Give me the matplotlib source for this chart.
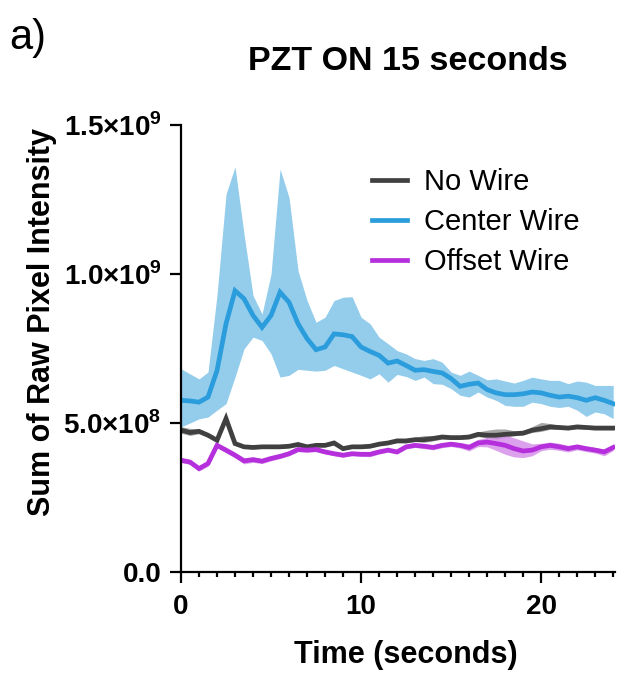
import numpy as np
import matplotlib
matplotlib.use("Agg")
import matplotlib.pyplot as plt
from matplotlib.ticker import MultipleLocator

plt.rcParams['font.family'] = ['Liberation Sans', 'DejaVu Sans']
plt.rcParams['mathtext.fontset'] = 'custom'
plt.rcParams['mathtext.rm'] = 'Liberation Sans'
plt.rcParams['mathtext.bf'] = 'Liberation Sans:bold'

# Data (values in units of 1e8), sampled every 0.5 s
time_s = [0.0, 0.5, 1.0, 1.5, 2.0, 2.5, 3.0, 3.5, 4.0, 4.5, 5.0, 5.5, 6.0, 6.5,
          7.0, 7.5, 8.0, 8.5, 9.0, 9.5, 10.0, 10.5, 11.0, 11.5, 12.0, 12.5,
          13.0, 13.5, 14.0, 14.5, 15.0, 15.5, 16.0, 16.5, 17.0, 17.5, 18.0,
          18.5, 19.0, 19.5, 20.0, 20.5, 21.0, 21.5, 22.0, 22.5, 23.0, 23.5, 24.0]

no_wire = [4.76, 4.68, 4.72, 4.59, 4.42, 5.15, 4.31, 4.20, 4.18, 4.20, 4.20,
           4.20, 4.22, 4.28, 4.20, 4.25, 4.25, 4.33, 4.14, 4.20, 4.20,
           4.22, 4.29, 4.33, 4.40, 4.40, 4.44, 4.44, 4.48, 4.53, 4.51,
           4.51, 4.53, 4.62, 4.59, 4.59, 4.62, 4.64, 4.66, 4.76, 4.81,
           4.87, 4.85, 4.83, 4.87, 4.85, 4.83, 4.83, 4.83]
no_wire_hi = [4.88, 4.82, 4.80, 4.66, 4.50, 5.22, 4.38, 4.26, 4.24, 4.26, 4.27,
              4.28, 4.29, 4.36, 4.27, 4.32, 4.32, 4.42, 4.20, 4.27, 4.26,
              4.28, 4.35, 4.40, 4.47, 4.48, 4.52, 4.58, 4.58, 4.60, 4.58,
              4.57, 4.60, 4.70, 4.76, 4.80, 4.80, 4.74, 4.73, 4.88, 5.02,
              4.98, 4.92, 4.90, 4.94, 4.91, 4.89, 4.89, 4.90]
no_wire_lo = [4.66, 4.58, 4.64, 4.52, 4.36, 5.08, 4.25, 4.15, 4.13, 4.15, 4.15,
              4.15, 4.17, 4.22, 4.15, 4.20, 4.20, 4.26, 4.09, 4.15, 4.15,
              4.17, 4.24, 4.28, 4.34, 4.33, 4.38, 4.35, 4.40, 4.46, 4.45,
              4.45, 4.47, 4.54, 4.50, 4.46, 4.52, 4.57, 4.60, 4.68, 4.72,
              4.79, 4.78, 4.77, 4.80, 4.79, 4.77, 4.77, 4.77]

center = [5.76, 5.74, 5.70, 5.87, 6.76, 8.33, 9.44, 9.17, 8.61, 8.21, 8.61,
          9.39, 9.05, 8.33, 7.83, 7.46, 7.55, 7.99, 7.96, 7.90, 7.55,
          7.40, 7.27, 7.01, 7.08, 6.93, 6.77, 6.79, 6.73, 6.68, 6.49,
          6.23, 6.30, 6.34, 6.12, 6.01, 5.95, 5.95, 5.98, 6.04, 6.01,
          5.93, 5.87, 5.90, 5.85, 5.76, 5.85, 5.76, 5.65]
center_hi = [6.82, 6.65, 6.48, 6.71, 9.30, 12.68, 13.60, 11.34, 9.28, 8.66, 10.00,
             13.52, 12.57, 10.11, 9.11, 8.38, 8.55, 9.11, 9.22, 9.24, 8.55,
             8.33, 7.88, 7.66, 7.43, 7.32, 7.16, 7.10, 7.16, 7.04, 6.71,
             6.60, 6.74, 6.60, 6.45, 6.48, 6.41, 6.34, 6.43, 6.54, 6.48,
             6.43, 6.43, 6.32, 6.41, 6.37, 6.26, 6.26, 6.26]
center_lo = [4.87, 5.00, 5.14, 5.20, 5.43, 5.65, 6.54, 7.49, 7.88, 7.77, 7.32,
             6.54, 6.60, 6.80, 6.77, 6.74, 6.77, 6.93, 6.82, 6.71, 6.60,
             6.48, 6.65, 6.37, 6.63, 6.56, 6.43, 6.54, 6.32, 6.30, 6.15,
             5.93, 5.87, 6.04, 5.87, 5.76, 5.59, 5.56, 5.56, 5.70, 5.65,
             5.56, 5.52, 5.56, 5.43, 5.22, 5.37, 5.31, 5.15]

offset = [3.75, 3.69, 3.47, 3.64, 4.25, 4.09, 3.92, 3.73, 3.77, 3.72, 3.81,
          3.88, 3.97, 4.11, 4.09, 4.11, 4.03, 3.97, 3.92, 3.97, 3.95,
          3.95, 4.03, 4.09, 4.03, 4.20, 4.25, 4.22, 4.18, 4.25, 4.29,
          4.25, 4.18, 4.33, 4.36, 4.31, 4.25, 4.14, 4.06, 4.09, 4.20,
          4.25, 4.20, 4.14, 4.20, 4.14, 4.09, 4.03, 4.18]
offset_hi = [3.83, 3.77, 3.55, 3.73, 4.32, 4.18, 4.01, 3.83, 3.86, 3.80, 3.89,
             3.95, 4.04, 4.18, 4.16, 4.18, 4.10, 4.04, 3.99, 4.04, 4.02,
             4.03, 4.10, 4.16, 4.10, 4.27, 4.32, 4.30, 4.26, 4.33, 4.37,
             4.34, 4.30, 4.45, 4.52, 4.58, 4.60, 4.50, 4.40, 4.30, 4.32,
             4.36, 4.32, 4.25, 4.28, 4.22, 4.18, 4.13, 4.26]
offset_lo = [3.67, 3.61, 3.39, 3.55, 4.17, 4.00, 3.83, 3.63, 3.68, 3.64, 3.73,
             3.81, 3.90, 4.04, 4.02, 4.04, 3.96, 3.90, 3.85, 3.90, 3.88,
             3.87, 3.96, 4.02, 3.96, 4.13, 4.18, 4.14, 4.10, 4.17, 4.21,
             4.16, 4.06, 4.21, 4.20, 4.08, 3.95, 3.86, 3.84, 3.90, 4.07,
             4.12, 4.08, 4.03, 4.10, 4.04, 3.99, 3.90, 4.08]

labels = ['No Wire', 'Center Wire', 'Offset Wire']
y_ticks = [0, 5e8, 1e9, 1.5e9]
y_tick_labels = ['0.0', '5.0×10$^{\\mathbf{8}}$', '1.0×10$^{\\mathbf{9}}$', '1.5×10$^{\\mathbf{9}}$']
x_ticks = [0, 10, 20]

scale = 1e8
t = np.array(time_s)
series = [
    (no_wire, no_wire_lo, no_wire_hi, '#404040', '#8a8a8a', 0.75),
    (center, center_lo, center_hi, '#2b9ddc', '#94cdec', 1.0),
    (offset, offset_lo, offset_hi, '#b530dc', '#d48ae8', 0.8),
]

fig = plt.figure(figsize=(6.33, 6.73), dpi=100)
ax = fig.add_axes([181/633, 101/673, 434/633, 447/673])

for (m, lo, hi, c, fc, a), lab in zip(series, labels):
    ax.fill_between(t, np.array(lo)*scale, np.array(hi)*scale, color=fc, alpha=a, lw=0)
    ax.plot(t, np.array(m)*scale, color=c, lw=3.4, label=lab, solid_joinstyle='miter')

ax.set_xlim(0, 24.1)
ax.set_ylim(0, 1.5e9)
ax.set_xticks(x_ticks)
ax.xaxis.set_minor_locator(MultipleLocator(1))
ax.set_yticks(y_ticks)
ax.set_yticklabels(y_tick_labels)

for s in ['top', 'right']:
    ax.spines[s].set_visible(False)
for s in ['left', 'bottom']:
    ax.spines[s].set_linewidth(1.6)
ax.tick_params(which='major', length=8, width=1.6, labelsize=20)
ax.tick_params(which='minor', length=3.8, width=1.6)
ax.tick_params(axis='y', pad=6)
ax.tick_params(axis='x', pad=8)
for lbl in ax.get_xticklabels() + ax.get_yticklabels():
    lbl.set_fontweight('bold')

fig.text(406/633, 1 - 655/673, 'Time (seconds)', fontsize=22, fontweight='bold',
         ha='center', va='center')
fig.text(42/633, 1 - 322/673, 'Sum of Raw Pixel Intensity', fontsize=22,
         fontweight='bold', rotation=90, ha='center', va='center')
fig.text(408/633, 1 - 62/673, 'PZT ON 15 seconds', fontsize=24.5, fontweight='bold',
         ha='center', va='center')
fig.text(9/633, 1 - 38/673, 'a)', fontsize=30, ha='left', va='center')

ax.legend(loc='upper left', bbox_to_anchor=(372/633, 1 - 168/673),
          bbox_transform=fig.transFigure, frameon=False, fontsize=21,
          handlelength=1.2, handletextpad=0.6, labelspacing=0.42,
          borderpad=0, borderaxespad=0)

fig.savefig('out.png', dpi=100)
